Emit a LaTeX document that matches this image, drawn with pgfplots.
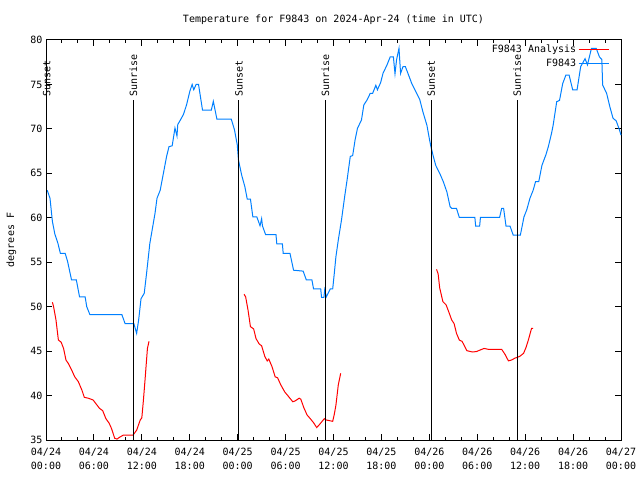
\documentclass[border=0pt]{standalone}
\usepackage{fontspec}
\setmainfont{DejaVu Sans Mono}
\usepackage{pgfplots}
\pgfplotsset{compat=1.18}
\definecolor{gpblue}{RGB}{0,128,255}
\definecolor{gpred}{RGB}{255,0,0}
\begin{document}
\fontsize{10bp}{12bp}\selectfont
\begin{tikzpicture}[font=\fontsize{10bp}{12bp}\selectfont]
\useasboundingbox (0,0) rectangle (640bp,480bp);
\node at (333.5bp,460bp) {Temperature for F9843 on 2024-Apr-24 (time in UTC)};
\begin{axis}[
  at={(46bp,40bp)}, anchor=south west,
  scale only axis, width=575bp, height=400bp,
  xmin=0, xmax=72, ymin=35, ymax=80,
  xtick={0,6,...,72},
  xticklabels={{04/24\\00:00},{04/24\\06:00},{04/24\\12:00},{04/24\\18:00},{04/25\\00:00},{04/25\\06:00},{04/25\\12:00},{04/25\\18:00},{04/26\\00:00},{04/26\\06:00},{04/26\\12:00},{04/26\\18:00},{04/27\\00:00}},
  x tick label style={align=center, font=\fontsize{10bp}{14bp}\selectfont, yshift=-5bp},
  minor x tick num=2,
  ytick={35,40,...,80},
  tick align=inside,
  major tick length=6bp, minor tick length=3bp,
  every tick/.style={black, line width=1bp},
  axis line style={black, line width=1bp},
  /pgf/number format/assume math mode=true,
  ylabel={degrees F},
  ylabel style={at={(axis description cs:-0.06,0.5)}, anchor=center},
  legend style={draw=none, fill=none, at={(0.985,0.998)}, anchor=north east,
    legend cell align=right, row sep=1bp, font=\fontsize{10bp}{12bp}\selectfont},
  legend plot pos=right,
  legend image code/.code={\draw[#1] (0bp,0bp) -- (30bp,0bp);},
  clip=false,
]
\addplot[gpred, line width=1bp] coordinates {
(0.8,50.5) (0.95,50.0) (1.25,48.5) (1.55,46.25) (1.9,46.0) (2.2,45.3) (2.5,44.0) (2.8,43.6) (3.2,42.9) (3.6,42.1) (4.05,41.56) (4.5,40.6) (4.8,39.8) (5.3,39.7) (5.9,39.5) (6.7,38.56) (7.1,38.3) (7.5,37.4) (7.9,36.9) (8.2,36.3) (8.6,35.2) (8.9,35.1) (9.2,35.3) (9.7,35.56) (10.9,35.56) (11.35,36.1) (11.8,37.25) (12.0,37.5) (12.2,39.5) (12.4,41.75) (12.7,45.3) (12.9,46.1)
};
\addlegendentry{F9843 Analysis}
\addplot[gpblue, line width=1bp] coordinates {
(0.15,63.1) (0.5,62.2) (0.8,59.6) (1.1,58.2) (1.5,57.1) (1.8,56.0) (2.4,56.0) (2.7,55.1) (3.2,53.0) (3.8,53.0) (4.2,51.1) (4.9,51.1) (5.1,50.0) (5.5,49.1) (9.5,49.1) (9.9,48.1) (11.0,48.1) (11.35,47.0) (11.6,48.5) (11.9,50.9) (12.3,51.5) (12.6,53.8) (13.0,57.1) (13.65,60.5) (13.9,62.2) (14.3,63.1) (14.7,65.0) (15.1,66.9) (15.4,68.0) (15.8,68.1) (16.15,70.1) (16.4,69.2) (16.5,70.5) (16.7,70.8) (17.2,71.6) (17.6,72.7) (18.0,74.2) (18.3,75.0) (18.5,74.4) (18.8,75.0) (19.1,75.0) (19.6,72.1) (20.7,72.1) (20.95,73.1) (21.4,71.1) (23.2,71.1) (23.6,69.9) (23.95,68.2) (24.1,66.5) (24.5,64.8) (24.9,63.5) (25.2,62.1) (25.6,62.1) (25.9,60.1) (26.4,60.1) (26.8,59.1) (27.0,59.9) (27.1,59.1) (27.5,58.1) (28.8,58.1) (28.9,57.05) (29.6,57.05) (29.7,56.0) (30.55,56.0) (31.0,54.1) (32.2,54.0) (32.6,53.0) (33.3,53.0) (33.5,52.0) (34.4,52.0) (34.5,51.05) (34.8,51.05) (34.9,51.9) (35.1,51.1) (35.6,52.0) (35.9,52.0) (36.1,53.75) (36.3,55.6) (36.6,57.5) (37.0,59.75) (37.4,62.4) (37.7,64.25) (38.1,66.9) (38.4,67.0) (38.7,68.75) (39.0,70.06) (39.5,71.0) (39.8,72.7) (40.2,73.25) (40.6,74.0) (40.9,74.0) (41.3,74.9) (41.5,74.4) (41.9,75.2) (42.2,76.25) (42.7,77.2) (43.1,78.1) (43.5,78.1) (43.7,76.2) (43.9,77.8) (44.2,79.06) (44.4,76.25) (44.7,77.0) (45.0,77.0) (45.4,76.06) (45.8,75.1) (46.3,74.2) (46.8,73.3) (47.2,71.9) (47.7,70.4) (48.0,68.9) (48.2,68.0) (48.5,66.9) (48.8,65.9) (49.3,65.0) (49.75,64.06) (50.2,62.9) (50.6,61.25) (50.8,61.06) (51.4,61.06) (51.75,60.05) (53.7,60.05) (53.8,59.07) (54.3,59.07) (54.4,60.05) (56.8,60.05) (57.06,61.06) (57.3,61.06) (57.6,59.07) (58.1,59.07) (58.5,58.06) (59.4,58.06) (59.85,60.1) (60.2,60.9) (60.6,62.2) (61.0,63.1) (61.3,64.06) (61.7,64.06) (62.1,65.9) (62.6,67.1) (62.9,68.0) (63.3,69.5) (63.5,70.4) (63.95,73.06) (64.3,73.2) (64.7,75.1) (65.1,76.06) (65.5,76.06) (65.95,74.4) (66.5,74.4) (66.95,77.0) (67.5,77.9) (67.8,77.2) (68.3,79.06) (68.9,79.06) (69.3,78.1) (69.6,77.8) (69.7,74.94) (70.2,74.0) (70.6,72.5) (71.0,71.2) (71.4,70.9) (71.8,69.9) (72.0,69.3)
};
\addlegendentry{F9843}
\addplot[gpred, line width=1bp, forget plot] coordinates {
(24.8,51.4) (25.0,51.1) (25.3,49.6) (25.6,47.75) (26.0,47.5) (26.3,46.4) (26.7,45.8) (27.0,45.6) (27.4,44.4) (27.7,43.9) (27.9,44.1) (28.3,43.25) (28.7,42.1) (29.0,42.0) (29.4,41.2) (29.9,40.4) (30.3,39.97) (30.9,39.3) (31.2,39.4) (31.7,39.7) (31.9,39.6) (32.3,38.6) (32.7,37.8) (33.0,37.5) (33.5,36.95) (33.9,36.4) (34.3,36.8) (34.85,37.4) (35.1,37.25) (35.9,37.1) (36.1,37.9) (36.3,38.9) (36.6,41.2) (36.9,42.5)
};
\addplot[gpred, line width=1bp, forget plot] coordinates {
(48.9,54.2) (49.1,53.7) (49.3,52.1) (49.7,50.56) (50.1,50.2) (50.5,49.25) (50.8,48.5) (51.1,48.1) (51.4,47.0) (51.75,46.25) (52.1,46.1) (52.7,45.05) (53.4,44.9) (53.9,44.95) (54.3,45.1) (54.85,45.3) (55.4,45.2) (57.06,45.2) (57.5,44.6) (57.9,43.9) (58.3,44.0) (58.7,44.2) (59.3,44.4) (59.8,44.75) (60.1,45.4) (60.4,46.25) (60.8,47.56) (61.0,47.56)
};
% sunrise / sunset lines
\addplot[black, line width=1bp, forget plot] coordinates {(0.1,35) (0.1,73.25)};
\addplot[black, line width=1bp, forget plot] coordinates {(10.93,35) (10.93,73.25)};
\addplot[black, line width=1bp, forget plot] coordinates {(24.15,35) (24.15,73.25)};
\addplot[black, line width=1bp, forget plot] coordinates {(35.0,35) (35.0,73.25)};
\addplot[black, line width=1bp, forget plot] coordinates {(48.25,35) (48.25,73.25)};
\addplot[black, line width=1bp, forget plot] coordinates {(59.0,35) (59.0,73.25)};
\node[rotate=90, anchor=west, inner sep=0pt] at (axis cs:0.1,73.6) {Sunset};
\node[rotate=90, anchor=west, inner sep=0pt] at (axis cs:10.93,73.6) {Sunrise};
\node[rotate=90, anchor=west, inner sep=0pt] at (axis cs:24.15,73.6) {Sunset};
\node[rotate=90, anchor=west, inner sep=0pt] at (axis cs:35.0,73.6) {Sunrise};
\node[rotate=90, anchor=west, inner sep=0pt] at (axis cs:48.25,73.6) {Sunset};
\node[rotate=90, anchor=west, inner sep=0pt] at (axis cs:59.0,73.6) {Sunrise};
\end{axis}
\end{tikzpicture}
\end{document}
